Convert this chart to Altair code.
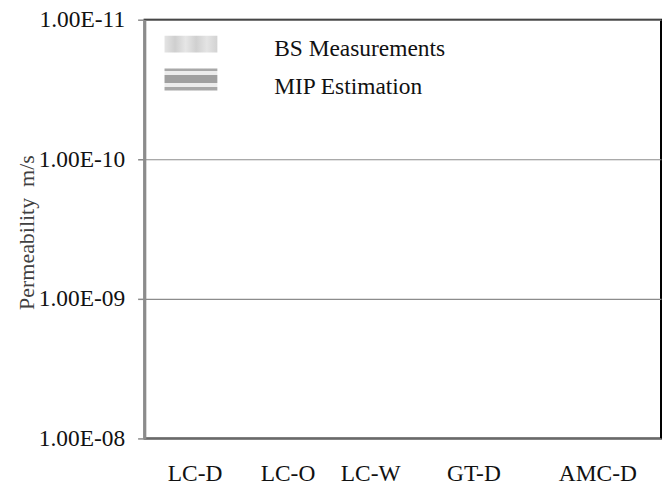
import altair as alt
import pandas as pd

# ---- data ----
categories = ["LC-D", "LC-O", "LC-W", "GT-D", "AMC-D"]
series = ["BS Measurements", "MIP Estimation"]
bs_values = [None, None, None, None, None]
mip_values = [None, None, None, None, None]
y_ticks = [1e-11, 1e-10, 1e-9, 1e-8]
y_tick_labels = ["1.00E-11", "1.00E-10", "1.00E-09", "1.00E-08"]

# ---- layout (category slots on the axis, uneven as in the original) ----
n_slots = 50
slot_of = [4, 13, 21, 31, 43]
domain = []
for i in range(n_slots):
    if i in slot_of:
        domain.append(categories[slot_of.index(i)])
    else:
        domain.append(" " * (i + 1))

rows = []
for c, b, m in zip(categories, bs_values, mip_values):
    rows.append({"cat": c, "series": series[0], "value": b})
    rows.append({"cat": c, "series": series[1], "value": m})
df = pd.DataFrame(rows)

label_expr = " : ".join(
    f"abs(log(datum.value)/LN10 - ({v:.0f})) < 0.01 ? '{lab}'"
    for v, lab in zip([-11, -10, -9, -8], y_tick_labels)
) + " : ''"

FONT = "Liberation Serif, Times New Roman, serif"
FS = 23.5

xenc = alt.X(
    "cat:N",
    scale=alt.Scale(domain=domain, paddingInner=0, paddingOuter=0),
    axis=alt.Axis(
        values=categories, title=None, labelAngle=0, ticks=False, domain=False,
        grid=False, labelFont=FONT, labelFontSize=FS, labelColor="#111111",
        labelPadding=23, labelOffset=4,
    ),
)
yenc = alt.Y(
    "value:Q",
    scale=alt.Scale(type="log", domain=[1e-11, 1e-8], reverse=True),
    axis=alt.Axis(
        values=y_ticks, labelExpr=label_expr, title="Permeability\u00a0\u00a0m/s",
        labelFont=FONT, labelFontSize=FS, labelColor="#111111", labelPadding=13,
        tickSize=7, tickColor="#8c8c8c", tickWidth=1.5,
        domainColor="#8c8c8c", domainWidth=2.5,
        gridColor="#8c8c8c", gridWidth=1.2,
        titleFont=FONT, titleFontSize=22, titleFontWeight="normal",
        titleColor="#404040", titleAngle=-90, titleX=-118, titleY=213,
        titleAlign="center", titleBaseline="middle",
    ),
)

bars = alt.Chart(df).mark_bar().encode(
    x=xenc, y=yenc, xOffset="series:N",
    color=alt.Color("series:N", legend=None,
                    scale=alt.Scale(domain=series, range=["#d9d9d9", "#a6a6a6"])),
)

leg_df = pd.DataFrame({"series": series})

speckle = alt.LinearGradient(
    gradient="linear", x1=0, x2=1, y1=0, y2=0,
    stops=[alt.GradientStop(offset=o, color=c) for o, c in [
        (0.0, "#e4e4e4"), (0.2, "#cfcfcf"), (0.4, "#e6e6e6"),
        (0.6, "#d0d0d0"), (0.8, "#e4e4e4"), (1.0, "#d2d2d2")]],
)
stripes = alt.LinearGradient(
    gradient="linear", x1=0, x2=0, y1=0, y2=1,
    stops=[alt.GradientStop(offset=o, color=c) for o, c in [
        (0.0, "#a8a8a8"), (0.13, "#a8a8a8"), (0.13, "#ececec"), (0.3, "#ececec"),
        (0.3, "#a0a0a0"), (0.68, "#a0a0a0"), (0.68, "#ececec"), (0.85, "#ececec"),
        (0.85, "#a8a8a8"), (1.0, "#a8a8a8")]],
)

sw_bs = alt.Chart(leg_df).transform_filter(alt.datum.series == series[0]).mark_rect(
    fill=speckle).encode(x=alt.value(20), x2=alt.value(73), y=alt.value(16), y2=alt.value(33))
sw_mip = alt.Chart(leg_df).transform_filter(alt.datum.series == series[1]).mark_rect(
    fill=stripes).encode(x=alt.value(20), x2=alt.value(73), y=alt.value(49), y2=alt.value(71))

txt_bs = alt.Chart(leg_df).transform_filter(alt.datum.series == series[0]).mark_text(
    align="left", baseline="alphabetic", font=FONT, fontSize=FS, color="#111111"
).encode(text="series:N", x=alt.value(130), y=alt.value(36))
txt_mip = alt.Chart(leg_df).transform_filter(alt.datum.series == series[1]).mark_text(
    align="left", baseline="alphabetic", font=FONT, fontSize=FS, color="#111111"
).encode(text="series:N", x=alt.value(130), y=alt.value(75))

chart = alt.layer(bars, sw_bs, sw_mip, txt_bs, txt_mip).properties(
    width=518, height=420,
    autosize=alt.AutoSizeParams(type="none"),
    padding={"left": 137, "top": 11, "right": 2, "bottom": 50},
    background="white",
).configure_view(stroke="black", strokeWidth=2)

chart.save("out.html", embed_options={"renderer": "svg", "actions": False})
